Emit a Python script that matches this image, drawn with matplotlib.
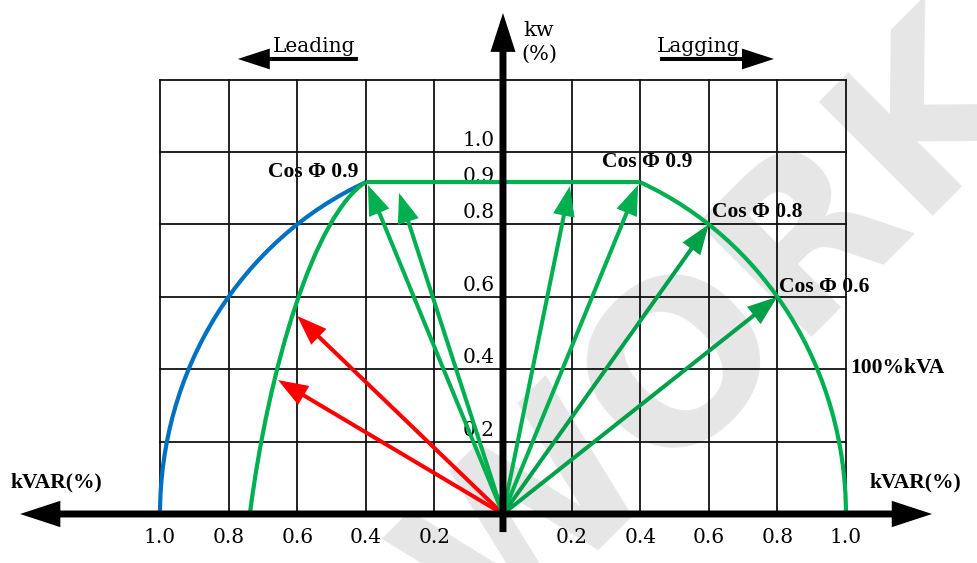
"""Generator capability diagram (kW vs kVAR) redrawn with matplotlib."""

import numpy as np
import matplotlib

matplotlib.use("Agg")
import matplotlib.pyplot as plt
from matplotlib.patches import Arc, FancyArrowPatch, PathPatch
from matplotlib.path import Path

# grid of the diagram (fractions of rated kVA)
GRID_X = [-1.0, -0.8, -0.6, -0.4, -0.2, 0.2, 0.4, 0.6, 0.8, 1.0]
GRID_Y = [0.2, 0.4, 0.6, 0.8, 1.0, 1.2]

X_TICK_VALUES = [-1.0, -0.8, -0.6, -0.4, -0.2, 0.2, 0.4, 0.6, 0.8, 1.0]
X_TICK_LABELS = ["1.0", "0.8", "0.6", "0.4", "0.2", "0.2", "0.4", "0.6", "0.8", "1.0"]
Y_TICK_VALUES = [1.0, 0.9, 0.8, 0.6, 0.4, 0.2]
Y_TICK_LABELS = ["1.0", "0.9", "0.8", "0.6", "0.4", "0.2"]

# capability limit: 100% kVA circle, flat at the cos phi 0.9 kW level
PF_EDGE_KVAR = 0.4
PF_LEVEL_KW = 0.917

# leading stability limit (inner green curve), bezier control points
LEAD_LIMIT_CTRL = [(-0.738, 0.0), (-0.684, 0.40), (-0.55, 0.827), (-0.4, 0.917)]

# operating vectors (kVAR, kW) from the origin
RED_VECTORS = [(-0.600, 0.547), (-0.656, 0.370)]
LEAD_VECTORS = [(-0.394, 0.909), (-0.303, 0.887)]
LAG_VECTORS = [(0.195, 0.906), (0.394, 0.909), (0.600, 0.800), (0.800, 0.600)]

PF_TEXTS = ["Cos Φ 0.9", "Cos Φ 0.9", "Cos Φ 0.8", "Cos Φ 0.6"]

GREEN = "#00b050"
DARK_GREEN = "#00a04a"
BLUE = "#0070c0"
RED = "#ff0000"

SERIF = "DejaVu Serif"
BOLD_SERIF = "Liberation Serif"


def vector(ax, tip, color, start=(0.0, 0.0), tail=0.29, head_len=2.16, head_w=1.58, z=4):
    arrow = FancyArrowPatch(
        posA=start, posB=tip,
        arrowstyle=f"simple,head_length={head_len},head_width={head_w},tail_width={tail}",
        mutation_scale=10, color=color, lw=0, shrinkA=0, shrinkB=0, zorder=z,
    )
    ax.add_patch(arrow)


fig = plt.figure(figsize=(9.78, 5.63), dpi=100)
ax = fig.add_axes([0, 0, 1, 1])
ax.set_xlim(-1.4665, 1.385)
ax.set_ylim(-0.1354, 1.4199)
ax.axis("off")

# watermark
ax.text(0.635, 0.496, "WORK", rotation=45, rotation_mode="anchor", fontsize=160,
        fontweight="bold", family="DejaVu Sans", color="#e6e6e6",
        ha="center", va="center", zorder=0)

# grid
for gx in GRID_X:
    ax.plot([gx, gx], [0, GRID_Y[-1]], color="#111111", lw=1.3, zorder=2)
for gy in GRID_Y:
    ax.plot([GRID_X[0], GRID_X[-1]], [gy, gy], color="#111111", lw=1.3, zorder=2)

# capability curves
edge_deg = np.degrees(np.arccos(PF_EDGE_KVAR))
ax.add_patch(Arc((0, 0), 2, 2, theta1=180 - edge_deg, theta2=180, color=BLUE, lw=3, zorder=3))
ax.add_patch(Arc((0, 0), 2, 2, theta1=0, theta2=edge_deg, color=GREEN, lw=3, zorder=3))
ax.plot([-PF_EDGE_KVAR, PF_EDGE_KVAR], [PF_LEVEL_KW, PF_LEVEL_KW], color=GREEN, lw=3,
        solid_capstyle="butt", zorder=3)
lead_path = Path(LEAD_LIMIT_CTRL, [Path.MOVETO, Path.CURVE4, Path.CURVE4, Path.CURVE4])
ax.add_patch(PathPatch(lead_path, fill=False, edgecolor=GREEN, lw=3, zorder=3))

# operating vectors
for tip in RED_VECTORS:
    vector(ax, tip, RED)
for tip in LEAD_VECTORS:
    vector(ax, tip, GREEN)
for i, tip in enumerate(LAG_VECTORS):
    vector(ax, tip, GREEN if i < 2 else DARK_GREEN)

# axes arrows
vector(ax, (1.251, 0), "black", tail=0.5, head_len=2.9, head_w=1.9, z=5)
vector(ax, (-1.408, 0), "black", tail=0.5, head_len=2.9, head_w=1.9, z=5)
vector(ax, (0, 1.384), "black", start=(0, -0.05), tail=0.5, head_len=2.8, head_w=1.8, z=5)

# leading / lagging direction arrows
vector(ax, (-0.773, 1.257), "black", start=(-0.423, 1.257), tail=0.29, head_len=2.3, head_w=1.5)
vector(ax, (0.790, 1.257), "black", start=(0.458, 1.257), tail=0.29, head_len=2.3, head_w=1.5)
ax.text(-0.552, 1.276, "Leading", family=SERIF, fontsize=14.5, ha="center", va="baseline")
ax.text(0.569, 1.276, "Lagging", family=SERIF, fontsize=14.5, ha="center", va="baseline")

# kW axis label
ax.text(0.058, 1.32, "kw", family=SERIF, fontsize=15, ha="left", va="baseline")
ax.text(0.055, 1.271, "(%)", family=SERIF, fontsize=15, ha="left", va="center")

# tick labels
for xv, lab in zip(X_TICK_VALUES, X_TICK_LABELS):
    ax.text(xv, -0.064, lab, family=SERIF, fontsize=14.5, ha="center", va="center")
for yv, lab in zip(Y_TICK_VALUES, Y_TICK_LABELS):
    ax.text(-0.023, yv + 0.032, lab, family=SERIF, fontsize=14.5, ha="right", va="center",
            zorder=1)

# power factor annotations
bold = dict(family=BOLD_SERIF, fontweight="bold", fontsize=15.5, va="center", zorder=1)
ax.text(-0.423, 0.945, PF_TEXTS[0], ha="right", **bold)
ax.text(0.289, 0.972, PF_TEXTS[1], ha="left", **bold)
ax.text(0.609, 0.834, PF_TEXTS[2], ha="left", **bold)
ax.text(0.805, 0.627, PF_TEXTS[3], ha="left", **bold)
ax.text(1.012, 0.403, "100%kVA", ha="left", **bold)
ax.text(-1.437, 0.088, "kVAR(%)", ha="left", **bold)
ax.text(1.070, 0.088, "kVAR(%)", ha="left", **bold)

fig.savefig("out.png", dpi=100)
plt.close(fig)
